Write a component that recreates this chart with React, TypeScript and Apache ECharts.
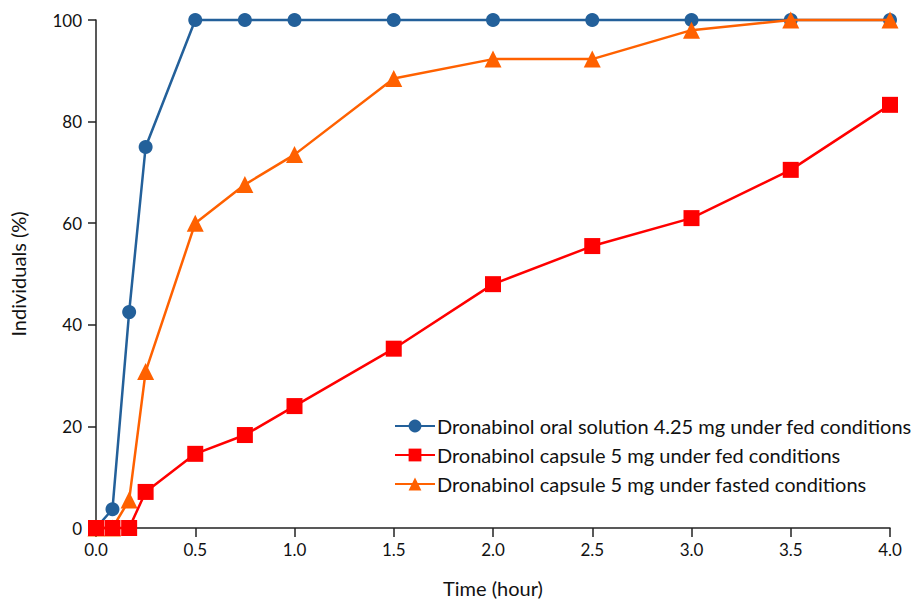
import React, { useEffect, useRef } from "react";
import * as echarts from "echarts";

const times = [0, 0.083, 0.167, 0.25, 0.5, 0.75, 1, 1.5, 2, 2.5, 3, 3.5, 4];
const solutionFed = [0, 3.7, 42.5, 75, 100, 100, 100, 100, 100, 100, 100, 100, 100];
const capsuleFed = [0, 0, 0, 7.1, 14.6, 18.3, 24, 35.3, 48, 55.5, 61, 70.5, 83.3];
const capsuleFasted = [0, 0, 5.5, 30.8, 60, 67.6, 73.5, 88.5, 92.3, 92.3, 98, 100, 100];
const seriesNames = [
  "Dronabinol oral solution 4.25 mg under fed conditions",
  "Dronabinol capsule 5 mg under fed conditions",
  "Dronabinol capsule 5 mg under fasted conditions",
];

const pair = (vals: number[]) => times.map((t, i) => [t, vals[i]]);

export default function App() {
  const ref = useRef<HTMLDivElement>(null);
  useEffect(() => {
    const chart = echarts.init(ref.current!, null, { renderer: "svg" });
    const font = "Lato, 'Open Sans', sans-serif";
    chart.setOption({
      animation: false,
      textStyle: { fontFamily: font },
      grid: { left: 96, width: 794, top: 20, height: 514 },
      legend: {
        orient: "vertical",
        left: 389,
        top: 411,
        itemWidth: 40,
        itemHeight: 16,
        itemGap: 9,
        data: seriesNames,
        textStyle: { fontSize: 20, color: "#111", fontFamily: font, padding: [0, 0, 0, -3] },
      },
      xAxis: {
        type: "value",
        min: 0,
        max: 4,
        interval: 0.5,
        name: "Time (hour)",
        nameLocation: "middle",
        nameGap: 50,
        nameTextStyle: { fontSize: 20, color: "#111" },
        axisLine: { lineStyle: { color: "#222", width: 1.5 } },
        axisTick: { length: 9, lineStyle: { color: "#222", width: 1.5 } },
        axisLabel: {
          fontSize: 17,
          color: "#111",
          margin: 13,
          formatter: (v: number) => v.toFixed(1),
        },
        splitLine: { show: false },
      },
      yAxis: {
        type: "value",
        min: 0,
        max: 100,
        interval: 20,
        name: "Individuals (%)",
        nameLocation: "middle",
        nameGap: 68,
        nameTextStyle: { fontSize: 20, color: "#111" },
        axisLine: { show: true, lineStyle: { color: "#222", width: 1.5 } },
        axisTick: { show: true, length: 8, lineStyle: { color: "#222", width: 1.5 } },
        axisLabel: { fontSize: 17, color: "#111", margin: 14 },
        splitLine: { show: false },
      },
      series: [
        {
          name: seriesNames[0],
          type: "line",
          data: pair(solutionFed),
          symbol: "circle",
          symbolSize: 14,
          clip: false,
          z: 2,
          itemStyle: { color: "#23609a" },
          lineStyle: { color: "#23609a", width: 2.5 },
        },
        {
          name: seriesNames[2],
          type: "line",
          data: pair(capsuleFasted),
          symbol: "triangle",
          symbolSize: 17,
          clip: false,
          z: 3,
          itemStyle: { color: "#ff6100" },
          lineStyle: { color: "#ff6100", width: 2.5 },
        },
        {
          name: seriesNames[1],
          type: "line",
          data: pair(capsuleFed),
          symbol: "rect",
          symbolSize: 16,
          clip: false,
          z: 4,
          itemStyle: { color: "#ff0000" },
          lineStyle: { color: "#ff0000", width: 2.5 },
        },
      ],
    });
    return () => chart.dispose();
  }, []);
  return (
    <div
      ref={ref}
      style={{ position: "fixed", left: 0, top: 0, width: 917, height: 603, background: "#fff" }}
    />
  );
}
